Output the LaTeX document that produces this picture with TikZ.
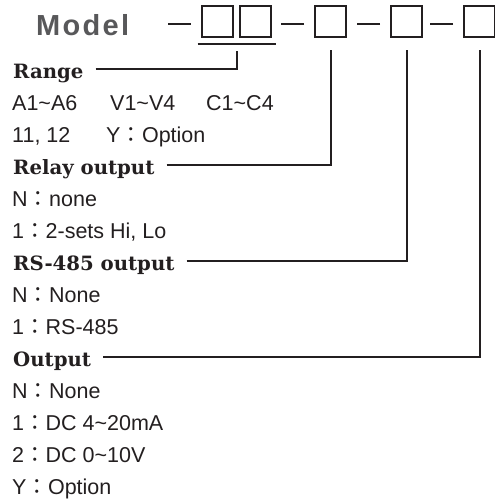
\documentclass[tikz,border=0pt]{standalone}
\usepackage{fontspec}
\usepackage{tikz}
\usepackage{xcolor}
\usetikzlibrary{calc}
\newfontfamily\bodyfont{Liberation Sans}
\newfontfamily\headfont{DejaVu Serif Bold}
\newfontfamily\modelfont[LetterSpace=8]{Liberation Sans Bold}
\newfontfamily\cjk{Noto Sans CJK JP}
\definecolor{ink}{HTML}{231F20}
\definecolor{modelgray}{HTML}{58585A}
\newcommand{\fcolon}{{\cjk ：}}

\begin{document}
\begin{tikzpicture}[x=1pt,y=-1pt,
    digitbox/.style={draw=ink,line width=2pt,minimum width=31pt,minimum height=31pt,inner sep=0pt},
    wire/.style={draw=ink,line width=2pt},
    head/.style={anchor=base west,inner sep=0pt,text=ink,font=\headfont\fontsize{19.7}{24}\selectfont},
    item/.style={anchor=base west,inner sep=0pt,text=ink,font=\bodyfont\fontsize{21.5}{25}\selectfont}]
  \useasboundingbox (0,0) rectangle (495,499);
  % model code
  \node[anchor=base west,inner sep=0pt,text=modelgray,font=\modelfont\fontsize{29}{33}\selectfont] (model) at (36,35) {Model};
  \foreach \n/\x in {1/217,2/255,3/330.5,4/406.5,5/479.5}
    \node[digitbox] (b\n) at (\x,21.5) {};
  \foreach \n in {1,3,4,5}
    \draw[wire] ([xshift=-10pt,yshift=-2.5pt]b\n.west) -- ++(-23,0);
  \coordinate (ulw) at ([xshift=-3pt,yshift=-6pt]b1.south west);
  \coordinate (ule) at ([xshift=4pt,yshift=-6pt]b2.south east);
  \coordinate (ulm) at ($(ulw)!0.5!(ule)$);
  \draw[wire] (ulw) -- (ule);
  % headings and leaders
  \node[head] (rng) at (13,78) {Range};
  \node[head] (rly) at (13,174) {Relay output};
  \node[head] (rs) at (13,270) {RS-485 output};
  \node[head] (outp) at (13,366) {Output};
  \draw[wire] ([xshift=12pt,yshift=9pt]rng.base east) -| ([yshift=-7pt]ulm);
  \draw[wire] ([xshift=12pt,yshift=9pt]rly.base east) -| ([yshift=-12pt]b3.south);
  \draw[wire] ([xshift=12pt,yshift=9pt]rs.base east) -| ([yshift=-12pt]b4.south);
  \draw[wire] ([xshift=12pt,yshift=9pt]outp.base east) -| ([yshift=-12pt]b5.south);
  % options
  \node[item] (r1a) at (12,110) {A1\textasciitilde A6};
  \node[item] (r1b) at (110,110) {V1\textasciitilde V4};
  \node[item] (r1c) at (206,110) {C1\textasciitilde C4};
  \node[item] (r2a) at (12,142) {11, 12};
  \node[item] (r2b) at (106,142) {Y\fcolon Option};
  \node[item] (s1) at (12,206) {N\fcolon none};
  \node[item] (s2) at (12,238) {1\fcolon 2-sets Hi, Lo};
  \node[item] (c1) at (12,302) {N\fcolon None};
  \node[item] (c2) at (12,334) {1\fcolon RS-485};
  \node[item] (o1) at (12,398) {N\fcolon None};
  \node[item] (o2) at (12,430) {1\fcolon DC 4\textasciitilde 20mA};
  \node[item] (o3) at (12,462) {2\fcolon DC 0\textasciitilde 10V};
  \node[item] (o4) at (12,494) {Y\fcolon Option};
\end{tikzpicture}
\end{document}
